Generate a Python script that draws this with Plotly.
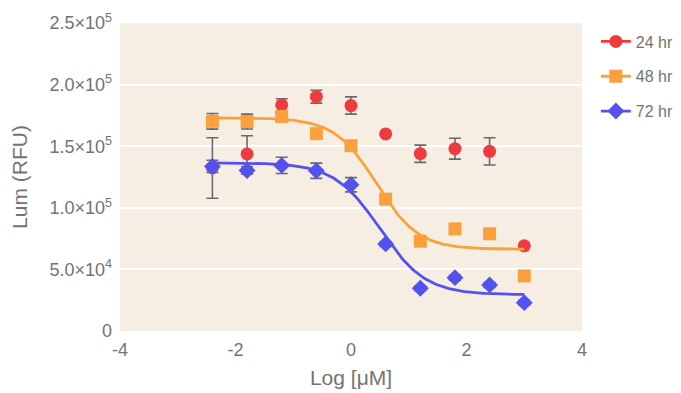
import numpy as np
import plotly.graph_objects as go

# ---- data ----
log_conc = [-2.4, -1.8, -1.2, -0.6, 0.0, 0.6, 1.2, 1.8, 2.4, 3.0]

lum_24 = [132300, 143700, 183500, 190200, 183000, 160000, 143900, 148000, 145800, 69100]
err_24 = [24500, 14800, 5000, 5200, 7000, 0, 7000, 8500, 11000, 0]

lum_48 = [170200, 170000, 174200, 160200, 150400, 107000, 72900, 82900, 78900, 44700]
err_48 = [6300, 6000, 3000, 2000, 2000, 2000, 2000, 2000, 2000, 2000]

lum_72 = [133600, 130300, 134400, 130100, 118700, 70700, 34700, 43300, 37400, 23000]
err_72 = [5000, 3000, 6600, 6200, 5800, 2000, 2000, 2000, 2000, 2000]

# four-parameter logistic fit parameters (top, bottom, logIC50, hill)
fit_48 = [173000, 66300, 0.44, 1.2]
fit_72 = [136500, 29500, 0.50, 1.1]

series_names = ["24 hr", "48 hr", "72 hr"]

y_tickvals = [0, 50000, 100000, 150000, 200000, 250000]
y_ticktext = ["0", "5.0×10<sup>4</sup>", "1.0×10<sup>5</sup>", "1.5×10<sup>5</sup>",
              "2.0×10<sup>5</sup>", "2.5×10<sup>5</sup>"]
x_tickvals = [-4, -2, 0, 2, 4]
x_ticktext = ["-4", "-2", "0", "2", "4"]

RED = "#EF3B3E"
ORANGE = "#FBA03C"
BLUE = "#5452EE"
ERR = "#6a6a6a"
TXT = "#737373"
FONT = "Liberation Sans, Arial, sans-serif"


def logistic(x, p):
    top, bottom, c, h = p
    return bottom + (top - bottom) / (1 + 10 ** ((x - c) * h))


xs = np.linspace(min(log_conc), max(log_conc), 200)

fig = go.Figure()


def add_points(y, e, color, symbol, size):
    fig.add_trace(go.Scatter(
        x=log_conc, y=y, mode="markers", showlegend=False,
        marker=dict(color=color, symbol=symbol, size=size, line=dict(width=0)),
        error_y=dict(type="data", array=e, visible=True, color=ERR,
                     thickness=1.6, width=6),
    ))


add_points(lum_24, err_24, RED, "circle", 13)
fig.add_trace(go.Scatter(x=xs, y=logistic(xs, fit_48), mode="lines", showlegend=False,
                         line=dict(color=ORANGE, width=2.8), hoverinfo="skip"))
add_points(lum_48, err_48, ORANGE, "square", 13)
fig.add_trace(go.Scatter(x=xs, y=logistic(xs, fit_72), mode="lines", showlegend=False,
                         line=dict(color=BLUE, width=2.8), hoverinfo="skip"))
add_points(lum_72, err_72, BLUE, "diamond", 13)

# legend entries
for name, color, symbol in zip(series_names, [RED, ORANGE, BLUE], ["circle", "square", "diamond"]):
    fig.add_trace(go.Scatter(
        x=[None], y=[None], mode="lines+markers", name=name, legendgroup=name,
        line=dict(color=color, width=2.8),
        marker=dict(color=color, symbol=symbol, size=13),
    ))

fig.update_layout(
    width=681, height=393,
    margin=dict(l=112, r=107, t=15, b=70, autoexpand=False),
    paper_bgcolor="white",
    plot_bgcolor="#F6EEE3",
    font=dict(family=FONT, color=TXT, size=18),
    legend=dict(x=1.03, y=0.995, xanchor="left", yanchor="top",
                traceorder="grouped", tracegroupgap=11,
                font=dict(size=16, color=TXT), bgcolor="rgba(0,0,0,0)"),
    xaxis=dict(range=[-4, 4], tickvals=x_tickvals, ticktext=x_ticktext,
               showgrid=False, zeroline=False, showline=False, ticks="",
               automargin=False,
               ticklabelstandoff=6, tickfont=dict(size=18, color=TXT),
               title=dict(text="Log [μM]", font=dict(size=21, color=TXT), standoff=11)),
    yaxis=dict(range=[0, 250000], tickvals=y_tickvals, ticktext=y_ticktext,
               showgrid=True, gridcolor="white", gridwidth=1.5, zeroline=False,
               showline=False, ticks="", ticklabelstandoff=7, automargin=False,
               tickfont=dict(size=18, color=TXT),
               title=dict(text="Lum (RFU)", font=dict(size=21, color=TXT), standoff=16)),
)

fig.write_html("out.html")
